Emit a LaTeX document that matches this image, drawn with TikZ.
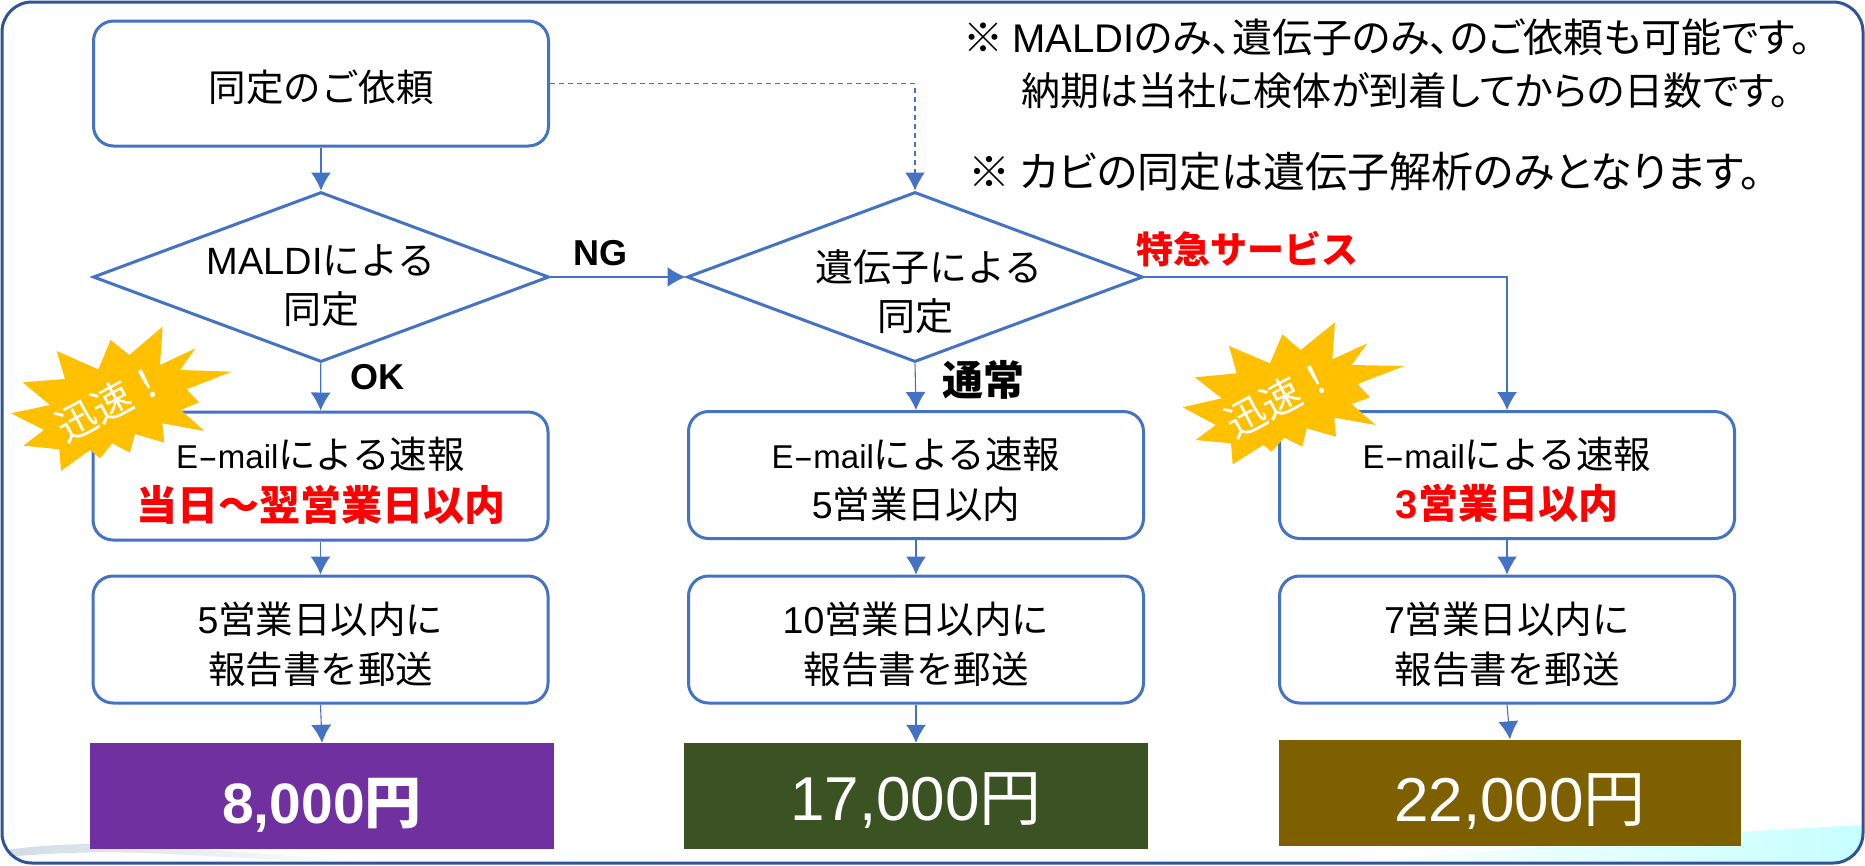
\documentclass[tikz,border=0pt]{standalone}
\usepackage{fontspec}
\usetikzlibrary{arrows.meta,shapes.geometric}
\setmainfont{Noto Sans CJK JP}
\newfontfamily\paltf[RawFeature=+palt]{Noto Sans CJK JP}
\newfontfamily\ar{Liberation Sans}
\newcommand{\emailtxt}{{\fontsize{33}{33}\selectfont\ar E\scalebox{1.8}[1]{-}mail}}
\newcommand{\fs}[1]{\fontsize{#1}{#1}\selectfont}
\newcommand{\dn}[1]{\rule{0pt}{#1pt}}
\definecolor{lineblue}{HTML}{4472C4}
\definecolor{framec}{HTML}{2F5597}
\definecolor{starc}{HTML}{FFC000}
\definecolor{pur}{HTML}{7030A0}
\definecolor{grn}{HTML}{3B5323}
\definecolor{brn}{HTML}{7F6000}
\definecolor{wavel}{HTML}{CFDCE4}
\tikzset{
  box/.style={draw=lineblue,line width=3pt,rounded corners=20pt,minimum width=455pt,align=center,inner sep=0pt,font=\fs{37.5},text=black},
  dia/.style={draw=lineblue,line width=3pt,diamond,shape aspect=2.68,minimum width=456pt,minimum height=170pt,inner sep=0pt},
  price/.style={rectangle,inner sep=0pt,text=white,minimum height=106pt,font=\fs{62}\ar},
  conn/.style={draw=lineblue,line width=1.1pt,-{Latex[length=18pt,width=20pt]}},
  txt/.style={inner sep=0pt,align=center,font=\fs{38},text=black},
  lbl/.style={inner sep=0pt,font=\fs{36}\bfseries,text=black},
  note/.style={inner sep=0pt,anchor=west,text=black},
  burst/.style={fill=starc},
  bursttxt/.style={inner sep=0pt,font=\fs{40},text=white,rotate=28}
}
\begin{document}
\begin{tikzpicture}[x=1pt,y=-1pt]
\useasboundingbox (0,0) rectangle (1865,865);
\fill[white] (0,0) rectangle (1865,865);
% wave
\begin{scope}
\clip[rounded corners=30pt] (2,2) rectangle (1863,863);
\shade[left color=white,right color=cyan!22!white] (1330,863) .. controls (1500,852) and (1650,835) .. (1865,825) -- (1865,865) -- (1330,865) -- cycle;
\shade[left color=wavel,right color=white] (0,851) .. controls (50,843) and (110,842) .. (180,847) .. controls (240,852) and (310,858) .. (380,861) .. controls (300,862) and (230,857) .. (170,854) .. controls (110,851) and (50,852) .. (0,858) -- cycle;
\end{scope}
\draw[framec,line width=3pt,rounded corners=30pt] (2,2) rectangle (1863,863);

\node[box,minimum height=125pt] (req) at (321,83.5) {\dn{40}同定のご依頼};
\node[dia] (d1) at (321,277) {};
\node[dia] (d2) at (915,277) {};
\node[txt] (d1t) at (321,286) {{\ar MALDI}による\\[11pt]同定};
\node[txt] (d2t) at (915,292) {\hspace*{28pt}遺伝子による\\[11pt]同定};

\node[box,minimum height=128pt] (e1) at (320.5,476) {\dn{41}\emailtxt による速報\\[12.5pt]{\fs{41}\textcolor{red}{\bfseries 当日～翌営業日以内}}};
\node[box,minimum height=127pt] (e2) at (916,475) {\dn{41}\emailtxt による速報\\[12.5pt]{\ar 5}営業日以内};
\node[box,minimum height=127pt] (e3) at (1507,475) {\dn{41}\emailtxt による速報\\[12.5pt]{\fs{40}\textcolor{red}{\bfseries {\ar 3}営業日以内}}};
\node[box,minimum height=127pt] (m1) at (320.5,639.5) {\dn{41}{\ar 5}営業日以内に\\[12.5pt]報告書を郵送};
\node[box,minimum height=127pt] (m2) at (916,639.5) {\dn{41}{\ar 10}営業日以内に\\[12.5pt]報告書を郵送};
\node[box,minimum height=127pt] (m3) at (1507,639.5) {\dn{41}{\ar 7}営業日以内に\\[12.5pt]報告書を郵送};

\node[price,fill=pur,minimum width=464pt,font=\fs{57}\ar\bfseries] (p1) at (322,796) {\dn{63}8,000{\rmfamily 円}};
\node[price,fill=grn,minimum width=464pt] (p2) at (916,796) {\dn{57}17,000{\rmfamily 円}};
\node[price,fill=brn,minimum width=462pt] (p3) at (1510,792.5) {\dn{65}\hspace*{20pt}22,000{\rmfamily 円}};

\draw[conn] (req) -- (d1);
\draw[conn,dash pattern=on 5pt off 4pt] (req.east) -| (d2.north);
\draw[conn] (d1) -- (d2);
\draw[conn] (d2.east) -| (e3.north);
\draw[conn] (d1) -- (e1);
\draw[conn] (d2.south) -- (e2.north);
\draw[conn] (e1) -- (m1);
\draw[conn] (e2) -- (m2);
\draw[conn] (e3) -- (m3);
\draw[conn] (m1.south) -- (p1.north);
\draw[conn] (m2.south) -- (p2.north);
\draw[conn] (m3.south) -- (p3.north);

\node[lbl] (ng) at (600,253) {\ar NG};
\node[lbl] (ok) at (377,377) {\ar OK};
\node[lbl,font=\fs{41}\bfseries] (tsujo) at (983,380) {通常};
\node[lbl,text=red,font=\fs{37}\bfseries] (tokkyu) at (1247,249) {特急サービス};

\node[note,font=\fs{40}\paltf] (n1) at (963,37) {※ {\ar MALDI}のみ、遺伝子のみ、のご依頼も可能です。};
\node[note,font=\fs{39}\paltf] (n2) at (1021,91) {納期は当社に検体が到着してからの日数です。};
\node[note,font=\fs{42}\paltf] (n3) at (968,172) {※ カビの同定は遺伝子解析のみとなります。};

\begin{scope}[yshift=-310pt,x=.3333pt,y=-.3333pt]
\fill[burst] (488,50)--(480,165)--(587,115)--(540,180)--(695,185)--(560,238)--(597,277)--(543,300)--(613,363)--(487,340)--(493,398)--(405,372)--(390,428)--(337,400)--(300,445)--(270,420)--(183,483)--(178,418)--(70,407)--(132,360)--(33,310)--(150,285)--(68,217)--(195,207)--(170,123)--(295,178)--(332,90)--(388,135)--cycle;
\end{scope}
\begin{scope}[xshift=1170pt,yshift=-310pt,x=.3333pt,y=-.3333pt]
\fill[burst] (495,37)--(487,148)--(592,100)--(545,165)--(703,168)--(563,222)--(600,262)--(545,282)--(617,345)--(493,323)--(498,380)--(410,355)--(397,410)--(343,383)--(305,425)--(280,405)--(188,463)--(183,400)--(77,390)--(137,345)--(38,292)--(155,265)--(75,202)--(200,190)--(177,108)--(300,160)--(337,73)--(392,120)--cycle;
\end{scope}
\node[bursttxt] (b1) at (112,402) {迅速！};
\node[bursttxt] (b2) at (1281,398) {迅速！};
\end{tikzpicture}
\end{document}
